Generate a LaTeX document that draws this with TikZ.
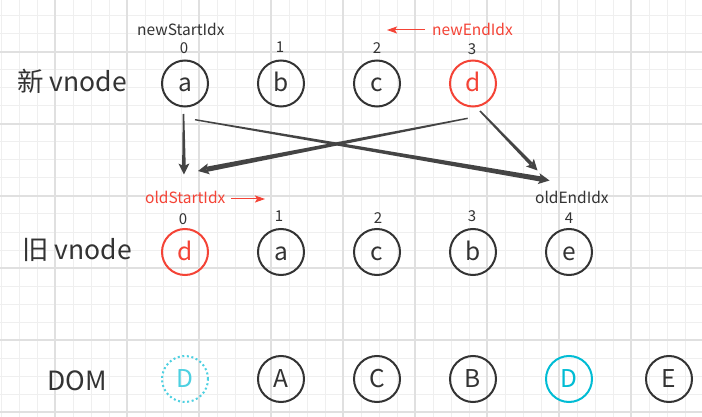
\documentclass[tikz,border=0pt]{standalone}
\usepackage{fontspec}
\setmainfont{Noto Sans CJK SC}
\usetikzlibrary{calc,arrows.meta}
\definecolor{ink}{HTML}{333333}
\definecolor{arrowc}{HTML}{444444}
\definecolor{redc}{HTML}{F44336}
\definecolor{cyanc}{HTML}{00BCD4}
\definecolor{cyanl}{HTML}{4DD0E1}
\definecolor{gminor}{HTML}{EFEFEF}
\definecolor{gmajor}{HTML}{E0E0E0}
\newcommand\taperarrow[4]{%
  \coordinate (tb) at ($(#2)!11pt!(#1)$);
  \coordinate (tn) at ($(#2)!8.5pt!(#1)$);
  \fill[arrowc] ($(#1)!#3!90:(#2)$) -- ($(tn)!#4!90:(#2)$) -- ($(tn)!#4!-90:(#2)$) -- ($(#1)!#3!-90:(#2)$) -- cycle;
  \fill[arrowc] (#2) -- ($(tb)!5.5pt!90:(#2)$) -- (tn) -- ($(tb)!5.5pt!-90:(#2)$) -- cycle;
}
\begin{document}
\begin{tikzpicture}[x=1pt,y=-1pt,
  vn/.style={circle, draw=ink, line width=2pt, minimum size=46pt, inner sep=0pt,
    font=\fontsize{24.5}{24}\selectfont, text=ink, text height=16.5pt, text depth=0pt},
  rowlabel/.style={anchor=base west, text=ink, font=\fontsize{26.5}{26}\selectfont, inner sep=0pt},
  idx/.style={anchor=base, text=ink, font=\fontsize{15}{15}\selectfont, inner sep=0pt},
  ptr/.style={anchor=base west, font=\fontsize{15.5}{16}\selectfont, inner sep=0pt},
  redarrow/.style={draw=redc, line width=1pt, -{Stealth[length=10pt,width=7pt,inset=2pt]}}
]
\useasboundingbox (0,0) rectangle (702,417);
\fill[white] (0,0) rectangle (702,417);
% grid
\foreach \x in {1,19,...,701} \draw[gminor,line width=1pt] (\x,0) -- (\x,417);
\foreach \y in {16,34,...,416} \draw[gminor,line width=1pt] (0,\y) -- (702,\y);
\foreach \x in {55,127,...,631} \draw[gmajor,line width=1.5pt] (\x,0) -- (\x,417);
\foreach \y in {52,124,...,412} \draw[gmajor,line width=1.5pt] (0,\y) -- (702,\y);

% row labels
\node[rowlabel] (lnew) at (17,92) {新 vnode};
\node[rowlabel] (lold) at (22,259) {旧 vnode};
\node[rowlabel] (ldom) at (47,390) {DOM};

% new vnode row
\node[vn] (na) at (185,83.5) {a};
\node[vn] (nb) at (281,83.5) {b};
\node[vn] (nc) at (377,83.5) {c};
\node[vn, draw=redc, text=redc] (nd) at (473,83.5) {d};
\node[idx] (i0) at (184,54) {0};
\node[idx] (i1) at (280,53) {1};
\node[idx] (i2) at (377,54) {2};
\node[idx] (i3) at (472,55) {3};

% old vnode row
\node[vn, draw=redc, text=redc] (od) at (185,252) {d};
\node[vn] (oa) at (281,252) {a};
\node[vn] (oc) at (377,252) {c};
\node[vn] (ob) at (473,252) {b};
\node[vn] (oe) at (569,252) {e};
\node[idx] (j0) at (183,224) {0};
\node[idx] (j1) at (279,222) {1};
\node[idx] (j2) at (378,223) {2};
\node[idx] (j3) at (472,222) {3};
\node[idx] (j4) at (569,223) {4};

% DOM row
\node[vn, draw=cyanl, text=cyanl, dash pattern=on 2pt off 2.6pt] (dD1) at (185,379) {D};
\node[vn] (dA) at (281,379) {A};
\node[vn] (dC) at (377,379) {C};
\node[vn] (dB) at (473,379) {B};
\node[vn, draw=cyanc, text=cyanc] (dD2) at (569,379) {D};
\node[vn] (dE) at (669,379) {E};

% pointer labels
\node[ptr, text=ink] (nsi) at (137,36) {newStartIdx};
\node[ptr, text=redc] (nei) at (432,36) {newEndIdx};
\node[ptr, text=redc] (osi) at (145,204) {oldStartIdx};
\node[ptr, text=ink] (oei) at (535,204) {oldEndIdx};
\coordinate (neA) at (425,30);
\coordinate (neB) at (387,30);
\coordinate (osA) at (231,199);
\coordinate (osB) at (265,199);
\draw[redarrow] (neA) -- (neB);
\draw[redarrow] (osA) -- (osB);

% comparison arrows
\coordinate (s1) at (183.5,114);
\coordinate (t1) at (184,174.5);
\coordinate (s2) at (195,119.7);
\coordinate (t2) at (549.5,180.5);
\coordinate (s3) at (467.7,118.3);
\coordinate (t3) at (198,171);
\coordinate (s4) at (480,111);
\coordinate (t4) at (537.5,170.5);
\taperarrow{s2}{t2}{0.7pt}{2.6pt}
\taperarrow{s3}{t3}{0.7pt}{2.6pt}
\taperarrow{s1}{t1}{0.8pt}{1.8pt}
\taperarrow{s4}{t4}{0.8pt}{1.8pt}
\end{tikzpicture}
\end{document}
